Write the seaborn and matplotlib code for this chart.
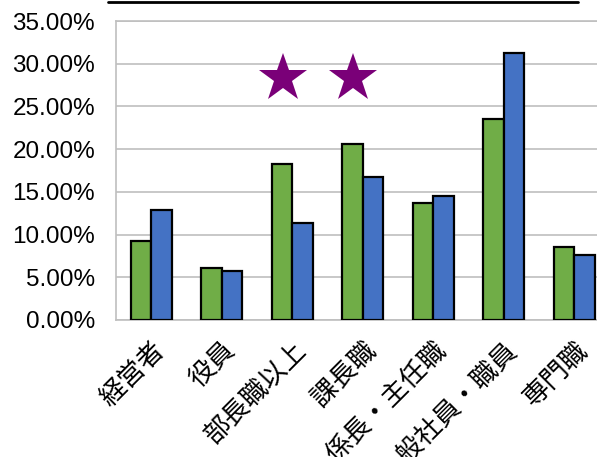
import pandas as pd
import matplotlib
matplotlib.use("Agg")
import matplotlib.pyplot as plt
import seaborn as sns
from matplotlib.lines import Line2D
from matplotlib.ticker import FuncFormatter, MultipleLocator

# categories and the two series (percent)
categories = ["経営者", "役員", "部長職以上", "課長職", "係長・主任職", "一般社員・職員", "専門職"]
series_names = ["系列1", "系列2"]
green_vals = [9.29, 6.12, 18.23, 20.60, 13.70, 23.57, 8.59]
blue_vals = [12.92, 5.77, 11.36, 16.70, 14.56, 31.26, 7.61]

# star annotations (x in category units, y in percent)
star_x = [1.87, 2.86]
star_y = [28.3, 28.3]

df = pd.DataFrame({
    "category": categories * 2,
    "series": [series_names[0]] * len(categories) + [series_names[1]] * len(categories),
    "value": green_vals + blue_vals,
})

sns.set_style("white")
plt.rcParams["font.family"] = ["Liberation Sans", "Noto Sans CJK JP", "DejaVu Sans"]

fig = plt.figure(figsize=(5.97, 4.57), dpi=100)
ax = fig.add_axes([116 / 597, 1 - 320 / 457, 493.5 / 597, 299 / 457])

sns.barplot(data=df, x="category", y="value", hue="series",
            palette=["#70AD47", "#4472C4"], saturation=1, width=0.58, gap=0,
            edgecolor="black", linewidth=1.6, legend=False, ax=ax, zorder=3)

ax.plot(star_x, star_y, linestyle="none", marker="*", ms=36.5,
        color="#7A0078", markeredgewidth=0, zorder=4, clip_on=False)

ax.set_xlim(-0.5, 6.5)
ax.set_ylim(0, 35)
ax.yaxis.set_major_locator(MultipleLocator(5))
ax.yaxis.set_major_formatter(FuncFormatter(lambda v, p: f"{v:.2f}%"))
ax.grid(axis="y", color="#BFBFBF", linewidth=1.2, zorder=0)
ax.set_axisbelow(True)
for s in ax.spines.values():
    s.set_color("#BFBFBF")
    s.set_linewidth(1.2)
ax.set_xlabel("")
ax.set_ylabel("")
ax.tick_params(axis="y", length=0, pad=15, labelsize=17.5, labelcolor="black")
ax.tick_params(axis="x", length=0, pad=12, labelcolor="black")
ax.set_xticks(range(len(categories)))
ax.set_xticklabels(categories, rotation=45, ha="right", rotation_mode="anchor",
                   fontsize=19, family=["Noto Sans CJK JP", "DejaVu Sans"])

# underline of the cut-off title at the top edge
fig.add_artist(Line2D([108 / 597, 578 / 597], [1 - 2 / 457, 1 - 2 / 457],
                      color="black", linewidth=2))

fig.savefig("out.png", dpi=100)
